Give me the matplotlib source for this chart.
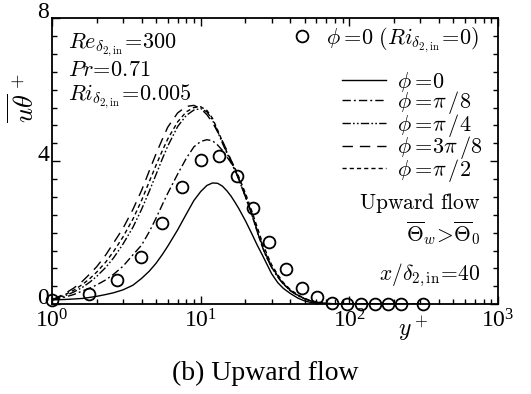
import numpy as np
import matplotlib.pyplot as plt

plt.rcParams['font.family'] = ['Liberation Serif', 'DejaVu Serif']
plt.rcParams['mathtext.fontset'] = 'cm'

# DNS samples, phi = 0 with Ri = 0
yp_dns = [1.0, 1.78, 2.72, 3.99, 5.52, 7.53, 10.0, 13.3, 17.6, 22.6, 29.0,
          37.5, 47.8, 60.9, 76.1, 96.0, 120, 149, 183, 222, 314]
ut_dns = [0.11, 0.28, 0.67, 1.32, 2.27, 3.28, 4.03, 4.14, 3.59, 2.68, 1.74,
          0.97, 0.44, 0.19, 0.02, 0.0, 0.0, 0.0, 0.0, 0.0, 0.0]

# y+ stations for the Ri = 0.005 profiles
yp = [1.0, 1.2, 1.4, 1.6, 1.8, 2.0, 2.3, 2.6, 3.0, 3.5, 4.0, 4.5, 5.0, 5.5,
      6.0, 7.0, 8.0, 9.0, 10.0, 11.0, 12.0, 13.0, 14.0, 15.0, 16.0, 17.0,
      18.0, 20.0, 22.0, 24.0, 26.0, 28.0, 30.0, 33.0, 36.0, 40.0, 45.0, 50.0,
      56.0, 63.0, 70.0, 80.0, 100.0, 300.0]

ut_phi0 = [0.12, 0.13, 0.145, 0.16, 0.19, 0.22, 0.27, 0.32, 0.40, 0.53, 0.72,
           0.92, 1.14, 1.38, 1.62, 2.08, 2.52, 2.90, 3.15, 3.32, 3.39, 3.38,
           3.30, 3.17, 3.02, 2.85, 2.68, 2.33, 1.98, 1.65, 1.37, 1.10, 0.85,
           0.60, 0.44, 0.30, 0.17, 0.09, 0.04, 0.02, 0.01, 0.0, 0.0, 0.0]
ut_phi8 = [0.12, 0.19, 0.27, 0.37, 0.45, 0.54, 0.68, 0.84, 1.06, 1.38, 1.65,
           2.02, 2.40, 2.77, 3.10, 3.64, 4.08, 4.40, 4.55, 4.60, 4.57, 4.45,
           4.30, 4.12, 3.95, 3.75, 3.50, 3.00, 2.52, 2.03, 1.60, 1.27, 1.03,
           0.76, 0.56, 0.38, 0.24, 0.15, 0.08, 0.04, 0.02, 0.01, 0.0, 0.0]
ut_phi4 = [0.12, 0.22, 0.34, 0.47, 0.62, 0.78, 1.03, 1.30, 1.68, 2.15, 2.65,
           3.15, 3.62, 4.05, 4.42, 4.97, 5.28, 5.43, 5.47, 5.38, 5.15, 4.82,
           4.50, 4.22, 3.98, 3.75, 3.50, 3.00, 2.52, 2.03, 1.60, 1.27, 1.03,
           0.76, 0.56, 0.38, 0.24, 0.15, 0.08, 0.04, 0.02, 0.01, 0.0, 0.0]
ut_phi38 = [0.12, 0.28, 0.45, 0.64, 0.85, 1.05, 1.38, 1.72, 2.12, 2.65, 3.18,
            3.72, 4.20, 4.60, 4.95, 5.35, 5.53, 5.56, 5.47, 5.30, 5.08, 4.82,
            4.56, 4.30, 4.03, 3.77, 3.52, 3.03, 2.55, 2.06, 1.64, 1.31, 1.06,
            0.78, 0.57, 0.39, 0.25, 0.15, 0.08, 0.04, 0.02, 0.01, 0.0, 0.0]
ut_phi2 = [0.12, 0.25, 0.39, 0.55, 0.72, 0.90, 1.18, 1.48, 1.88, 2.38, 2.90,
           3.42, 3.88, 4.28, 4.62, 5.10, 5.38, 5.50, 5.52, 5.42, 5.20, 4.87,
           4.55, 4.25, 4.02, 3.80, 3.57, 3.10, 2.62, 2.15, 1.72, 1.38, 1.10,
           0.82, 0.60, 0.41, 0.26, 0.16, 0.09, 0.05, 0.02, 0.01, 0.0, 0.0]

fig = plt.figure(figsize=(5.31, 3.94), dpi=100)
ax = fig.add_axes([0.098, 0.228, 0.840, 0.726])

ax.plot(yp, ut_phi0, color='k', lw=1.0, label=r'$\phi=\!0$')
ax.plot(yp, ut_phi8, color='k', lw=1.0, dashes=(6, 2.2, 1.4, 2.2),
        label=r'$\phi=\!\pi\,/8$')
ax.plot(yp, ut_phi4, color='k', lw=1.0, dashes=(6, 1.6, 1.2, 1.6, 1.2, 1.6),
        label=r'$\phi=\!\pi\,/4$')
ax.plot(yp, ut_phi38, color='k', lw=1.0, dashes=(7.5, 5),
        label=r'$\phi=\!3\pi\,/8$')
ax.plot(yp, ut_phi2, color='k', lw=1.0, dashes=(3, 2.2),
        label=r'$\phi=\!\pi\,/2$')
dns, = ax.plot(yp_dns, ut_dns, 'o', ms=8.5, mfc='none', mec='k', mew=1.3,
               clip_on=False, zorder=5)

ax.set_xscale('log')
ax.set_xlim(1, 1000)
ax.set_ylim(0, 8)
ax.set_yticks([0, 4, 8])
ax.set_yticks(np.arange(0, 8.01, 0.5), minor=True)
ax.tick_params(which='both', direction='in', top=True, right=True,
               labelsize=17)
ax.tick_params(which='major', length=6, width=1.0)
ax.tick_params(which='minor', length=3.8, width=1.0)
ax.tick_params(axis='x', pad=4)
ax.tick_params(axis='y', pad=2)
for lab in ax.get_yticklabels():
    lab.set_va('baseline')
for sp in ax.spines.values():
    sp.set_linewidth(1.3)

ax.set_xlabel(r'$y^+$', fontsize=17)
ax.xaxis.set_label_coords(0.81, -0.035)
ax.set_ylabel(r'$\overline{u\theta}^{\,+}$', fontsize=19)
ax.yaxis.set_label_coords(-0.03, 0.72)

# legends
leg1 = ax.legend([dns], [r'$\phi=\!0\ (Ri_{\delta_{2,\rm in}}\!=\!0)$'],
                 loc='upper right', bbox_to_anchor=(0.957, 0.975),
                 frameon=False, fontsize=16, handlelength=1.0,
                 handletextpad=0.6, borderpad=0, borderaxespad=0)
ax.add_artist(leg1)
handles, labels = ax.get_legend_handles_labels()
ax.legend(handles[:5], labels[:5], loc='upper right',
          bbox_to_anchor=(0.965, 0.82), frameon=False, fontsize=16,
          handlelength=2.0, handletextpad=0.5, labelspacing=-0.2,
          borderpad=0, borderaxespad=0)

# case parameters
ax.text(0.035, 0.905, r'$Re_{\delta_{2,\rm in}}\!=\!300$', transform=ax.transAxes,
        fontsize=16, va='center')
ax.text(0.035, 0.815, r'$Pr\!=\!0.71$', transform=ax.transAxes,
        fontsize=16, va='center')
ax.text(0.035, 0.725, r'$Ri_{\delta_{2,\rm in}}\!=\!0.005$',
        transform=ax.transAxes, fontsize=16, va='center')
ax.text(0.96, 0.355, r'$\mathrm{Upward\ flow}$', transform=ax.transAxes,
        fontsize=15.5, ha='right', va='center')
ax.text(0.96, 0.25, r'$\overline{\Theta}_w\!>\!\overline{\Theta}_0$',
        transform=ax.transAxes, fontsize=15.5, ha='right', va='center')
ax.text(0.96, 0.10, r'$x/\delta_{2,\rm in}\!=\!40$', transform=ax.transAxes,
        fontsize=15.5, ha='right', va='center')

fig.text(0.5, 0.053, '(b) Upward flow', fontsize=20, ha='center', va='center')

plt.savefig('out.png', dpi=100)
